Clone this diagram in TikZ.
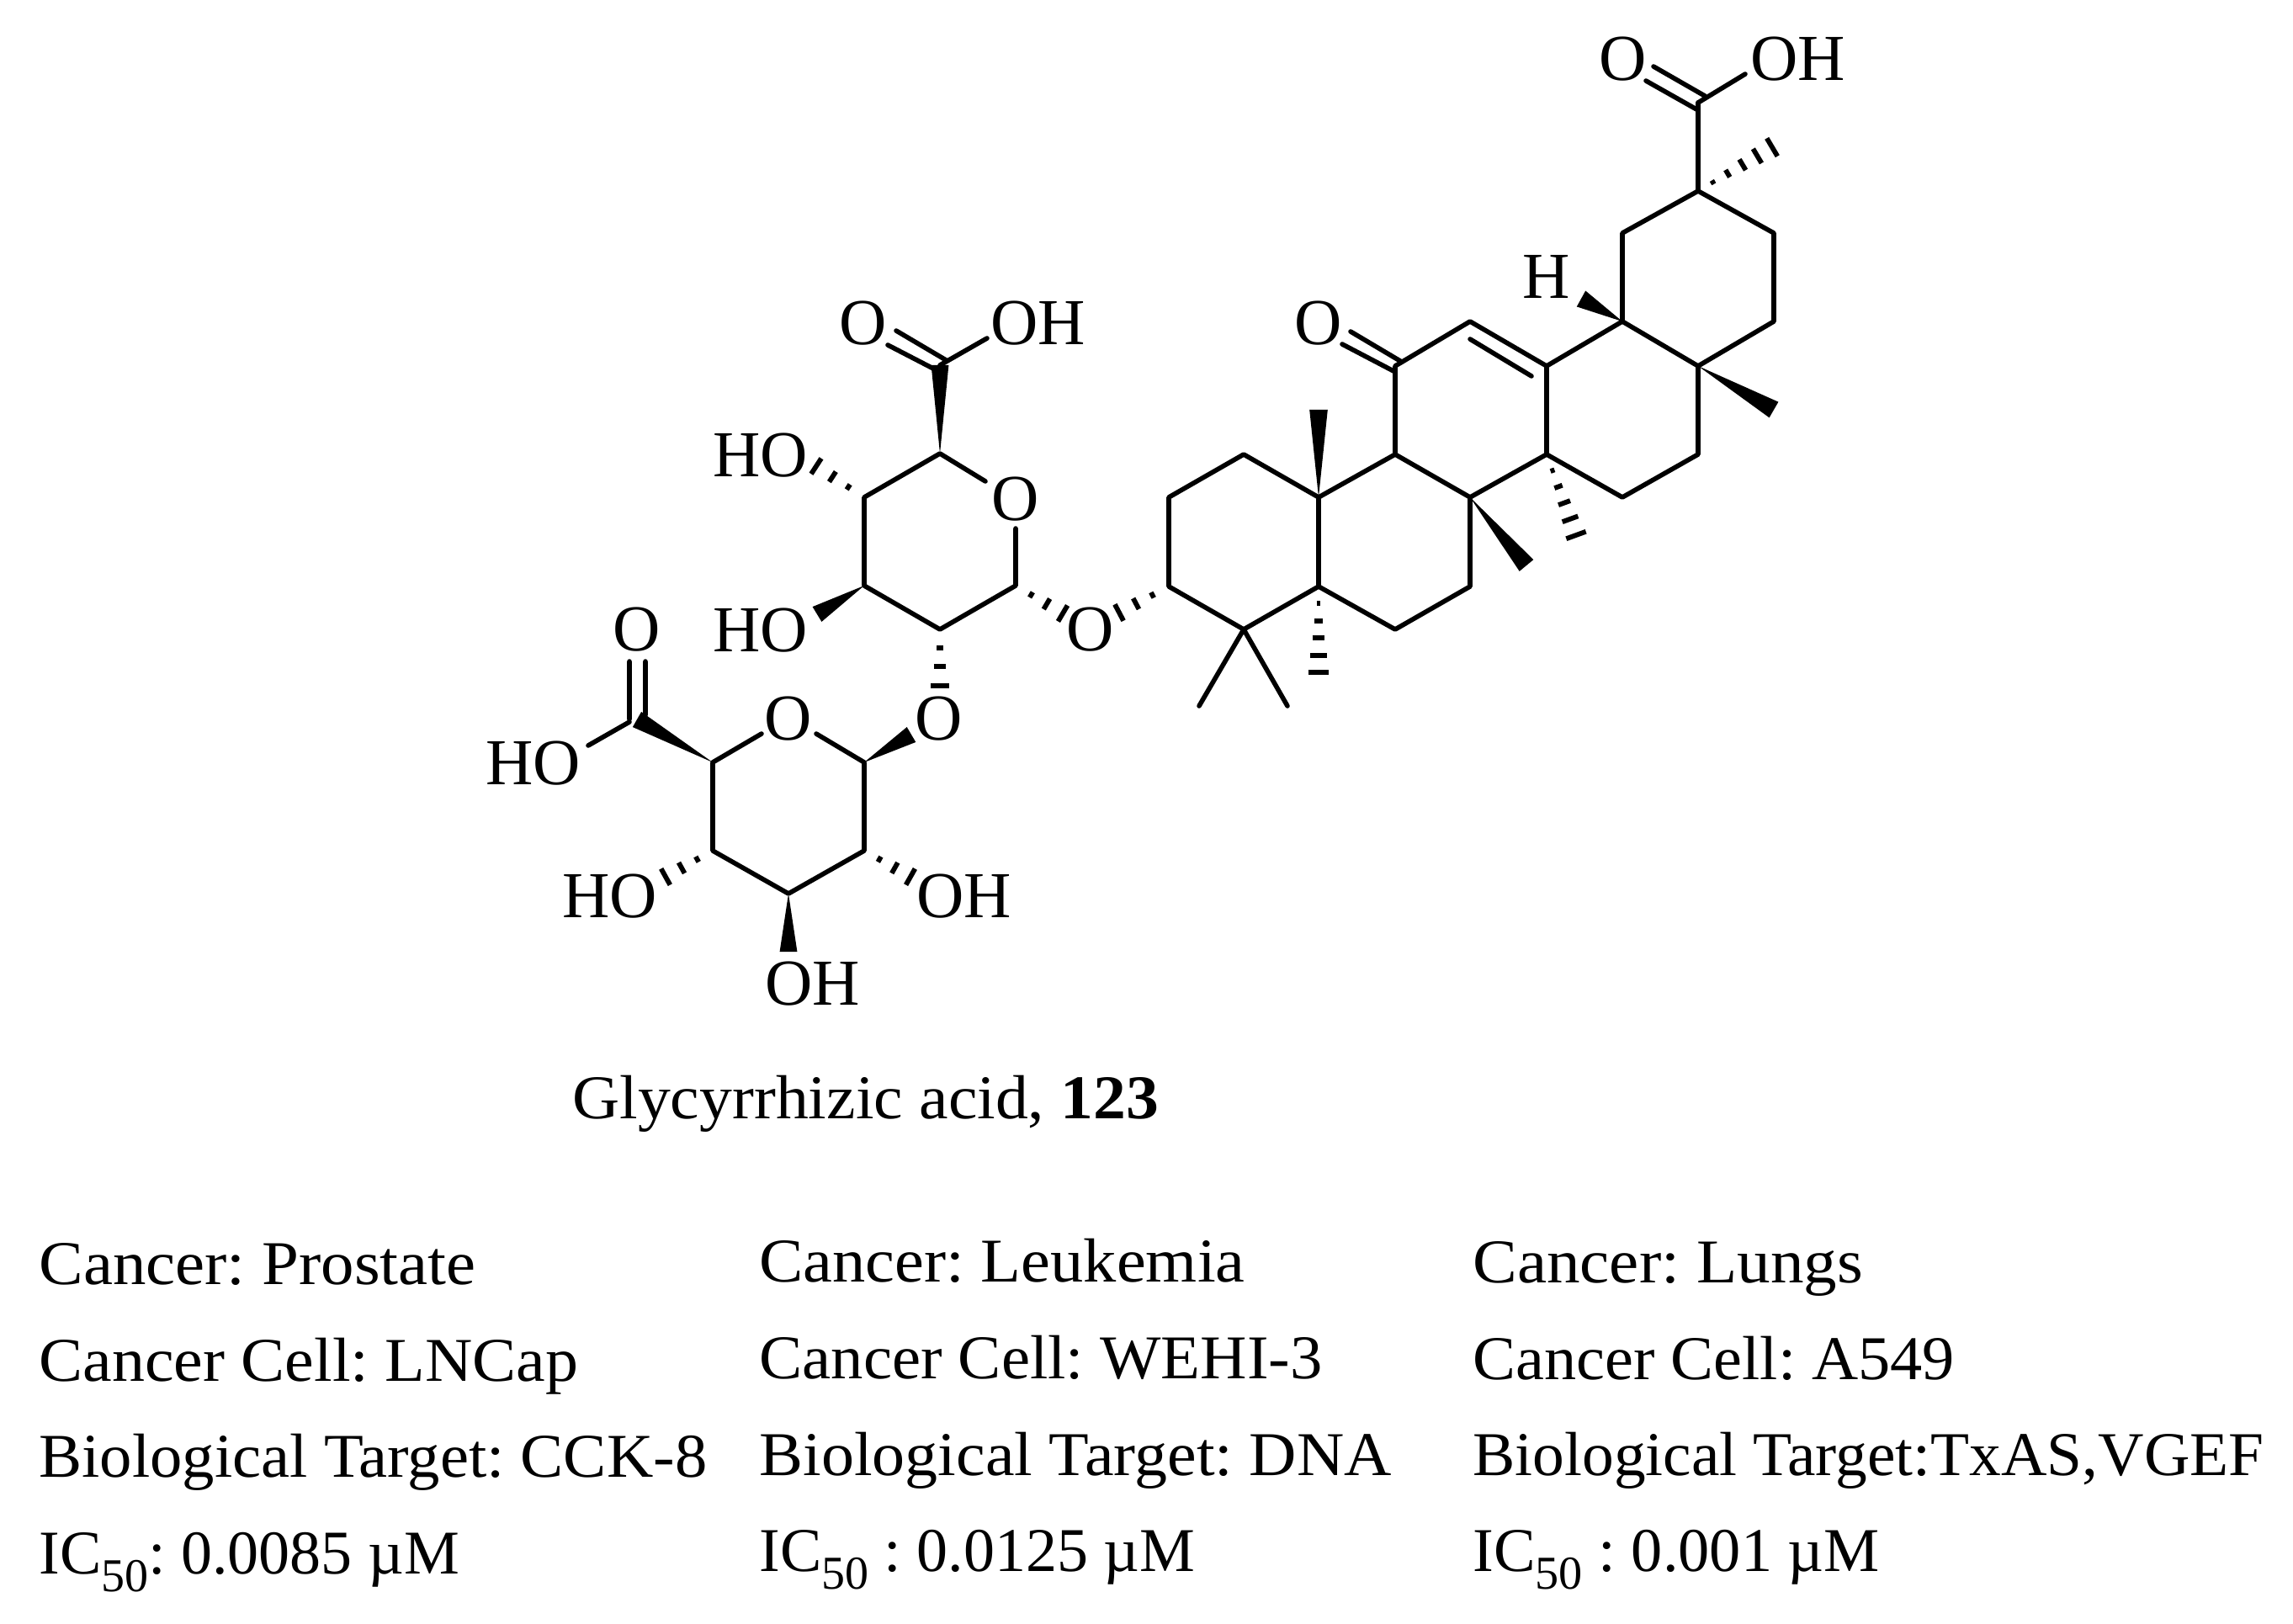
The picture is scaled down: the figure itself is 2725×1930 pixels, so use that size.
\documentclass[tikz,border=0pt]{standalone}
\usepackage{fontspec}
\usepackage{graphicx}
\setmainfont{Liberation Serif}
\usetikzlibrary{calc}
\newcommand\wedgebond[3]{\fill (#1) -- ($(#2)!#3pt!90:(#1)$) -- ($(#2)!#3pt!-90:(#1)$) -- cycle;}
\newcommand\hashbond[4]{\foreach \t in {#4}{%
  \pgfmathsetmacro\hw{\t*#3}%
  \draw[hashline] ($($(#1)!\t!(#2)$)!\hw pt!90:(#1)$) -- ($($(#1)!\t!(#2)$)!\hw pt!-90:(#1)$);}}
\newcommand\subfifty{\raisebox{-10.5pt}{\fontsize{28}{28}\selectfont 50}}
\newcommand\captext[2]{\scalebox{#1}[1]{#2}}
\tikzset{
  bond/.style={line width=2.8pt,line cap=round,line join=round},
  hashline/.style={line width=2.9pt,line cap=butt},
  atomlabel/.style={anchor=base,inner sep=0pt,font=\fontsize{39}{39}\selectfont},
  atomwest/.style={anchor=base west,inner sep=0pt,font=\fontsize{39}{39}\selectfont},
  caption/.style={anchor=base west,inner sep=0pt,font=\fontsize{37}{37}\selectfont\frenchspacing},
}
\begin{document}
\begin{tikzpicture}[x=0.5pt,y=-0.5pt]
\useasboundingbox (0,0) rectangle (2725,1930);
% triterpene atoms
\foreach \n/\p in {a/{2018,122},b/{2018,227},c/{2108,277},d/{2108,382},e/{2018,435},f/{1928,382},g/{1928,277},
 h/{1838,435},i/{1838,540},j/{1928,591},k/{2018,540},l/{1747,382},m/{1658,435},n/{1658,540},oo/{1747,591},
 p/{1747,697},q/{1658,748},r/{1567,697},s/{1567,591},t/{1478,540},u/{1389,591},v/{1389,697},w/{1478,748},
 meS/{1567,487},meO/{1814,672},meE/{2108,487},wH/{1879,355},meI/{1873,636},meR/{1567,799},meB/{2106,175},
 gemA/{1425,839},gemB/{1530,839},
 kA/{1658,442},kB/{1595,409},kC/{1664,429},kD/{1605,394},
 ccA/{1747,403},ccB/{1820,447},
 aOH/{2074,88},aA/{1965,79},aB/{2026,114},aC/{1956,96},aD/{2018,131},
 G1/{1117,539},G2/{1027,591},G3/{1027,696},G4/{1117,748},G5/{1207,696},
 gOa/{1171,572},gOb/{1207,628},G6/{1117,434},
 gOHe/{1173,402},gA/{1065,393},gB/{1126,429},gC/{1055,410},gD/{1111,439},
 hG2/{970,554},wG3/{971,730},hG4/{1117,815},hG5/{1263,729},hV/{1330,728},
 S1/{1027,906},S2/{1027,1011},S3/{937,1062},S4/{847,1011},S5/{847,906},
 sOa/{905,872},sOb/{970,872},wS1/{1083,873},wS5/{757,855},S6/{748,858},
 sdA/{748,786},sdB/{748,855},sdC/{767,786},sdD/{767,850},sOHe/{699,886},
 hS4/{791,1042},hS2/{1082,1042},wS3/{937,1131}}
 {\coordinate (\n) at (\p);}
% labels
\node[atomwest] (lOH1) at (2080,96) {OH};
\node[atomlabel] (lO1) at (1929,96) {O};
\node[atomlabel] (lH) at (1838,355) {H};
\node[atomlabel] (lOk) at (1567,410) {O};
\node[atomwest] (lOH2) at (1177,410) {OH};
\node[atomlabel] (lO2) at (1026,410) {O};
\node[atomwest] (lHO1) at (847,567) {HO};
\node[atomwest] (lHO2) at (847,775) {HO};
\node[atomlabel] (lOr1) at (1207,619) {O};
\node[atomlabel] (lOl) at (1296,774) {O};
\node[atomlabel] (lOb) at (1116,879) {O};
\node[atomlabel] (lOr2) at (937,879) {O};
\node[atomlabel] (lO3) at (757,774) {O};
\node[atomwest] (lHO3) at (577,932) {HO};
\node[atomwest] (lHO4) at (668,1090) {HO};
\node[atomwest] (lOH3) at (1089,1090) {OH};
\node[atomwest] (lOH4) at (909,1194) {OH};
% skeleton
\draw[bond] (a)--(b)--(c)--(d)--(e)--(f)--(g)--(b);
\draw[bond] (f)--(h)--(i)--(j)--(k)--(e);
\draw[bond] (h)--(l)--(m)--(n)--(oo)--(i);
\draw[bond] (oo)--(p)--(q)--(r)--(s)--(n);
\draw[bond] (s)--(t)--(u)--(v)--(w)--(r);
\draw[bond] (w)--(gemA) (w)--(gemB);
\draw[bond] (kA)--(kB) (kC)--(kD) (ccA)--(ccB);
\draw[bond] (a)--(aOH) (aA)--(aB) (aC)--(aD);
\wedgebond{s}{meS}{5.4}\wedgebond{oo}{meO}{5.4}\wedgebond{e}{meE}{5.4}\wedgebond{f}{wH}{5.4}
\hashbond{i}{meI}{6.2}{.2,.4,.6,.8,1}
\hashbond{r}{meR}{6.2}{.2,.4,.6,.8,1}
\hashbond{b}{meB}{6.2}{.2,.4,.6,.8,1}
% glucuronic acids
\draw[bond] (gOa)--(G1)--(G2)--(G3)--(G4)--(G5)--(gOb);
\draw[bond] (G6)--(gOHe) (gA)--(gB) (gC)--(gD);
\wedgebond{G1}{G6}{5.2}
\wedgebond{G3}{wG3}{5.2}
\hashbond{G2}{hG2}{5.5}{.33,.66,1}
\hashbond{G4}{hG4}{5.5}{.33,.66,1}
\hashbond{G5}{hG5}{5.5}{.33,.66,1}
\hashbond{v}{hV}{5.5}{.33,.66,1}
\draw[bond] (sOa)--(S5)--(S4)--(S3)--(S2)--(S1)--(sOb);
\draw[bond] (sdA)--(sdB) (sdC)--(sdD) (S6)--(sOHe);
\wedgebond{S5}{wS5}{5.2}
\wedgebond{S1}{wS1}{5.2}
\wedgebond{S3}{wS3}{5.2}
\hashbond{S4}{hS4}{5.5}{.33,.66,1}
\hashbond{S2}{hS2}{5.5}{.33,.66,1}
% captions
\node[caption] (title) at (680,1329) {\captext{1.05}{Glycyrrhizic acid, \textbf{123}}};
\node[caption] (c1a) at (46,1526) {\captext{1.066}{Cancer: Prostate}};
\node[caption] (c1b) at (46,1641) {\captext{1.054}{Cancer Cell: LNCap}};
\node[caption] (c1c) at (46,1755) {\captext{1.036}{Biological Target: CCK-8}};
\node[caption] (c1d) at (46,1870) {\captext{1.0}{IC\subfifty: 0.0085 µM}};
\node[caption] (c2a) at (902,1523) {\captext{1.06}{Cancer: Leukemia}};
\node[caption] (c2b) at (902,1638) {\captext{1.037}{Cancer Cell: WEHI-3}};
\node[caption] (c2c) at (902,1753) {\captext{1.054}{Biological Target: DNA}};
\node[caption] (c2d) at (902,1867) {\captext{1.0}{IC\subfifty\ : 0.0125 µM}};
\node[caption] (c3a) at (1750,1524) {\captext{1.069}{Cancer: Lungs}};
\node[caption] (c3b) at (1750,1639) {\captext{1.032}{Cancer Cell: A549}};
\node[caption] (c3c) at (1750,1753) {\captext{1.019}{Biological Target:TxAS,VGEF}};
\node[caption] (c3d) at (1750,1867) {\captext{1.005}{IC\subfifty\ : 0.001 µM}};
\end{tikzpicture}
\end{document}
